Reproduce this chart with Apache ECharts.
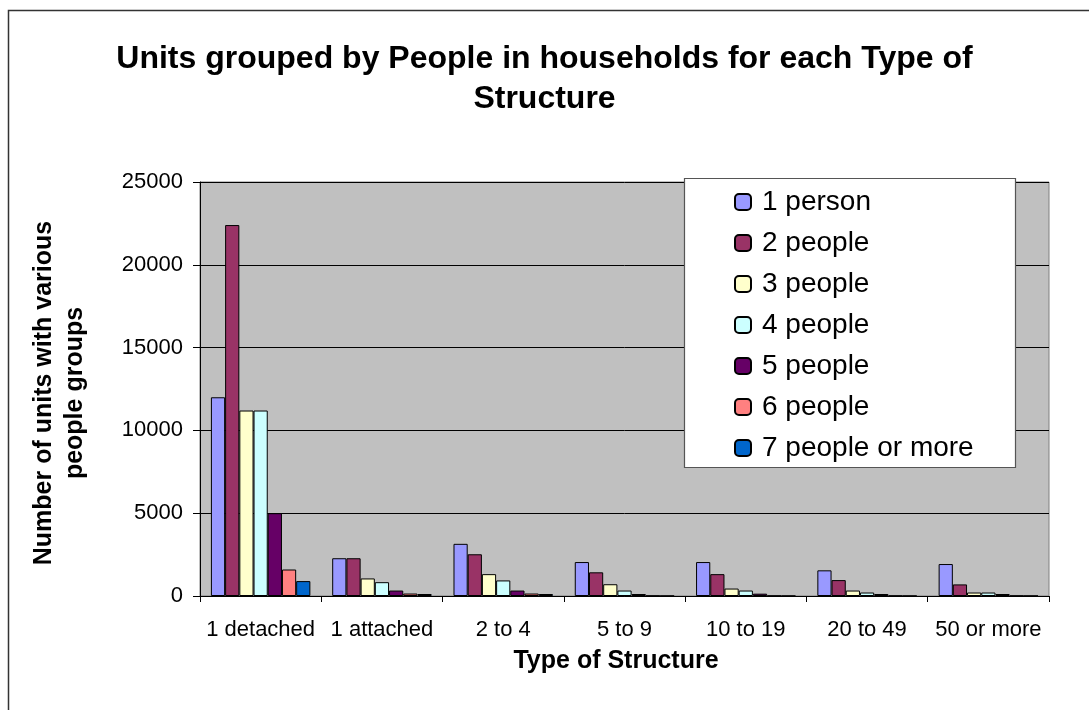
<!DOCTYPE html>
<html>
<head>
<meta charset="utf-8">
<script src="https://cdn.jsdelivr.net/npm/echarts@6/dist/echarts.min.js"></script>
<style>
html,body{margin:0;padding:0;background:#fff;}
#chart{width:1089px;height:710px;}
</style>
</head>
<body>
<div id="chart"></div>
<script>
var categories = ['1 detached', '1 attached', '2 to 4', '5 to 9', '10 to 19', '20 to 49', '50 or more'];
var seriesNames = ['1 person', '2 people', '3 people', '4 people', '5 people', '6 people', '7 people or more'];
var person1 = [12000, 2280, 3150, 2050, 2050, 1550, 1930];
var people2 = [22400, 2280, 2520, 1430, 1320, 960, 700];
var people3 = [11200, 1060, 1320, 710, 450, 330, 210];
var people4 = [11200, 835, 940, 330, 330, 210, 210];
var people5 = [5000, 330, 330, 120, 140, 120, 120];
var people6 = [1600, 150, 150, 20, 20, 20, 20];
var people7 = [900, 120, 120, 10, 10, 10, 10];
var yTicks = [0, 5000, 10000, 15000, 20000, 25000];
var titleText = 'Units grouped by People in households for each Type of\nStructure';
var yTitle = 'Number of units with various\npeople groups';
var xTitle = 'Type of Structure';

var colors = ['#9999FF', '#993366', '#FFFFCC', '#CCFFFF', '#660066', '#FF8080', '#0066CC'];
var allData = [person1, people2, people3, people4, people5, people6, people7];
var FONT = '"Liberation Sans", Arial, sans-serif';

var chart = echarts.init(document.getElementById('chart'), null, {renderer: 'canvas'});
var series = seriesNames.map(function (n, i) {
  return {
    name: n,
    type: 'bar',
    data: allData[i],
    barGap: '0%',
    barCategoryGap: '18%',
    itemStyle: {color: colors[i], borderColor: '#000', borderWidth: 1},
    emphasis: {disabled: true}
  };
});

chart.setOption({
  animation: false,
  backgroundColor: '#fff',
  textStyle: {fontFamily: FONT},
  title: {
    text: titleText,
    left: 'center',
    top: 34,
    padding: [5, 0, 5, 10],
    textStyle: {fontFamily: FONT, fontSize: 32, fontWeight: 'bold', color: '#000', lineHeight: 40}
  },
  grid: {
    left: 200, top: 182, right: 40, bottom: 114,
    show: true, backgroundColor: '#C0C0C0', borderColor: '#808080', borderWidth: 1
  },
  legend: {
    orient: 'vertical',
    left: 734, top: 188,
    z: 20,
    itemWidth: 16, itemHeight: 16,
    itemGap: 13,
    padding: 0,
    textStyle: {fontFamily: FONT, fontSize: 28, color: '#000', padding: [0, 0, 0, 6]},
    data: seriesNames
  },
  xAxis: {
    type: 'category',
    data: categories,
    axisLine: {lineStyle: {color: '#000', width: 1}},
    axisTick: {show: true, length: 6, lineStyle: {color: '#000'}},
    axisLabel: {fontFamily: FONT, fontSize: 22, color: '#000', margin: 23, interval: 0}
  },
  yAxis: {
    type: 'value',
    min: yTicks[0], max: yTicks[yTicks.length - 1], interval: 5000,
    axisLine: {show: true, lineStyle: {color: '#000', width: 1}},
    axisTick: {show: true, length: 7, lineStyle: {color: '#000'}},
    axisLabel: {fontFamily: FONT, fontSize: 22, color: '#000', margin: 17, formatter: function (v) { return String(v); }},
    splitLine: {lineStyle: {color: '#000', width: 1}}
  },
  graphic: [
    {type: 'rect', silent: true, z: -10, shape: {x: 8.5, y: 10.5, width: 1200, height: 1000}, style: {fill: 'none', stroke: '#333', lineWidth: 1.5}},
    {type: 'rect', silent: true, z: 5, shape: {x: 684.5, y: 178.5, width: 331, height: 289}, style: {fill: '#fff', stroke: '#555', lineWidth: 1.2}},
    {type: 'text', silent: true, x: 60, y: 393, rotation: Math.PI / 2, z: 60,
      style: {text: yTitle, font: 'bold 25px ' + FONT, fill: '#000', textAlign: 'center', textVerticalAlign: 'middle', lineHeight: 31}},
    {type: 'text', silent: true, x: 616, y: 661, z: 60,
      style: {text: xTitle, font: 'bold 25px ' + FONT, fill: '#000', textAlign: 'center', textVerticalAlign: 'middle'}}
  ],
  series: series
});
</script>
</body>
</html>
